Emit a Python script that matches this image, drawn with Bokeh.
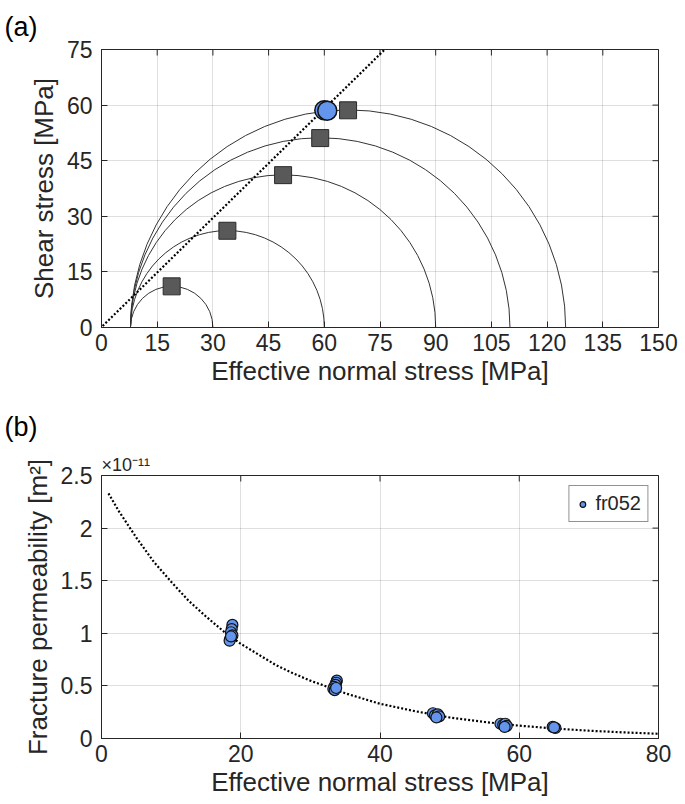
import numpy as np
from bokeh.plotting import figure
from bokeh.layouts import column
from bokeh.models import Range1d, FixedTicker, Title, ColumnDataSource
from bokeh.embed import file_html
from bokeh.resources import INLINE

# ---------------- data (a) Mohr circles ----------------
sigma3 = [7.8, 7.8, 7.8, 7.8, 7.8]          # effective minimum stress [MPa]
sigma1 = [30.0, 60.0, 90.0, 110.0, 125.0]   # effective maximum stress [MPa]
failure_x = [60.0, 60.8]                     # failure points (normal stress)
failure_y = [58.6, 58.5]                     # failure points (shear stress)
envelope_x = [0.3, 77.0]
envelope_y = [0.4, 75.7]
a_xticks = [0, 15, 30, 45, 60, 75, 90, 105, 120, 135, 150]
a_yticks = [0, 15, 30, 45, 60, 75]

# ---------------- data (b) permeability ----------------
stress_b = [18.8, 18.7, 18.6, 18.8, 18.5, 18.4, 18.6,
            33.8, 33.7, 33.6, 33.4, 33.3, 33.5, 33.7,
            47.6, 47.9, 48.3, 48.5, 48.1,
            57.3, 57.7, 58.0, 58.2, 57.9,
            64.8, 65.2, 65.0]
perm_b = [1.08, 1.04, 1.01, 0.98, 0.95, 0.93, 0.97,
          0.55, 0.53, 0.51, 0.49, 0.47, 0.46, 0.48,
          0.24, 0.22, 0.23, 0.21, 0.20,
          0.14, 0.13, 0.14, 0.12, 0.11,
          0.11, 0.10, 0.105]          # x 1e-11 m^2
fit_x = [1, 2.5, 5, 7.5, 10, 12.5, 15, 17.5, 20, 22.5, 25, 27.5, 30,
         35, 40, 45, 50, 55, 60, 65, 70, 75, 80]
fit_y = [2.33, 2.16, 1.91, 1.68, 1.49, 1.31, 1.16, 1.02, 0.90, 0.80, 0.70, 0.62, 0.55,
         0.43, 0.33, 0.26, 0.20, 0.157, 0.122, 0.095, 0.074, 0.058, 0.045]
b_xticks = [0, 20, 40, 60, 80]
b_yticks = [0, 0.5, 1, 1.5, 2, 2.5]

FONT = "Liberation Sans"
TXT = "#262626"
BLUE = "#6495ED"


def style(p, xticks, yticks, ylabels=None):
    for ax in p.xaxis + p.yaxis:
        ax.axis_line_color = TXT
        ax.major_tick_line_color = TXT
        ax.major_tick_in = 6
        ax.major_tick_out = 0
        ax.minor_tick_line_color = None
        ax.major_label_text_font = FONT
        ax.major_label_text_font_size = "23px"
        ax.major_label_text_color = TXT
        ax.axis_label_text_font = FONT
        ax.axis_label_text_font_size = "26px"
        ax.axis_label_text_font_style = "normal"
        ax.axis_label_text_color = TXT
    p.xaxis.major_label_standoff = 6
    p.xaxis.axis_label_standoff = 2
    p.yaxis.major_label_standoff = 9
    p.yaxis.axis_label_standoff = 5
    p.xaxis.ticker = FixedTicker(ticks=xticks)
    p.yaxis.ticker = FixedTicker(ticks=yticks)
    if ylabels:
        p.yaxis.major_label_overrides = ylabels
    p.xgrid.ticker = FixedTicker(ticks=xticks)
    p.ygrid.ticker = FixedTicker(ticks=yticks)
    p.grid.grid_line_color = TXT
    p.grid.grid_line_alpha = 0.15
    p.outline_line_color = TXT
    p.background_fill_color = "white"
    p.border_fill_color = "white"
    # mirrored inward ticks on top / right edges (box on); half of each dash is clipped
    xr, yr = p.x_range, p.y_range
    p.scatter(xticks, [yr.end] * len(xticks), marker="dash", angle=np.pi / 2, size=12,
              line_color=TXT, line_width=1)
    p.scatter([xr.end] * len(yticks), yticks, marker="dash", angle=0, size=12,
              line_color=TXT, line_width=1)


def panel_title(t, text, standoff):
    t.text = text
    t.align = "left"
    t.offset = -97
    t.text_font = FONT
    t.text_font_size = "27px"
    t.text_font_style = "normal"
    t.text_color = "black"
    t.standoff = standoff


# ---------------- figure (a) ----------------
p1 = figure(width=685, height=396, x_range=Range1d(0, 150), y_range=Range1d(0, 75),
            output_backend="svg", toolbar_location=None,
            min_border_left=101, min_border_right=27, min_border_top=49, min_border_bottom=69,
            x_axis_label="Effective normal stress [MPa]", y_axis_label="Shear stress [MPa]")
style(p1, a_xticks, a_yticks)
panel_title(p1.title, "(a)", 16)

s1 = np.array(sigma1)
s3 = np.array(sigma3)
circ = ColumnDataSource(dict(c=(s1 + s3) / 2, r=(s1 - s3) / 2, y0=np.zeros(len(s1))))
p1.arc(x="c", y="y0", radius="r", start_angle=0, end_angle=np.pi, direction="anticlock",
       line_color="#333333", line_width=1, source=circ)
p1.line(envelope_x, envelope_y, line_color="black", line_width=2.2, line_dash="2 2")
p1.scatter(x="c", y="r", marker="square", size=17, fill_color="#595959",
           line_color="#2a2a2a", line_width=1, source=circ)
p1.scatter(failure_x, failure_y, marker="circle", size=19, fill_color=BLUE,
           line_color="#111111", line_width=1.5)

# ---------------- figure (b) ----------------
p2 = figure(width=685, height=408, x_range=Range1d(0, 80), y_range=Range1d(0, 2.5),
            output_backend="svg", toolbar_location=None,
            min_border_left=101, min_border_right=27, min_border_top=79, min_border_bottom=66,
            x_axis_label="Effective normal stress [MPa]",
            y_axis_label="Fracture permeability [m²]")
style(p2, b_xticks, b_yticks, {0: "0", 0.5: "0.5", 1: "1", 1.5: "1.5", 2: "2", 2.5: "2.5"})
panel_title(p2.title, "(b)", 22)

p2.line(fit_x, fit_y, line_color="black", line_width=2.2, line_dash="2 2")
p2.scatter(stress_b, perm_b, marker="circle", size=11, fill_color=BLUE,
           line_color="#111111", line_width=1.2, legend_label="fr052")

lg = p2.legend[0]
lg.location = "top_right"
lg.margin = 10
lg.padding = 6
lg.label_text_font = FONT
lg.label_text_font_size = "20px"
lg.label_text_color = TXT
lg.border_line_color = TXT
lg.border_line_width = 1
lg.glyph_width = 14
lg.label_standoff = 6

p2.add_layout(Title(text="×10⁻¹¹", align="left", offset=0, text_font=FONT,
                    text_font_size="18px", text_font_style="normal", text_color=TXT,
                    standoff=1), "above")

layout = column(p1, p2)
open("out.html", "w").write(file_html(layout, INLINE))
